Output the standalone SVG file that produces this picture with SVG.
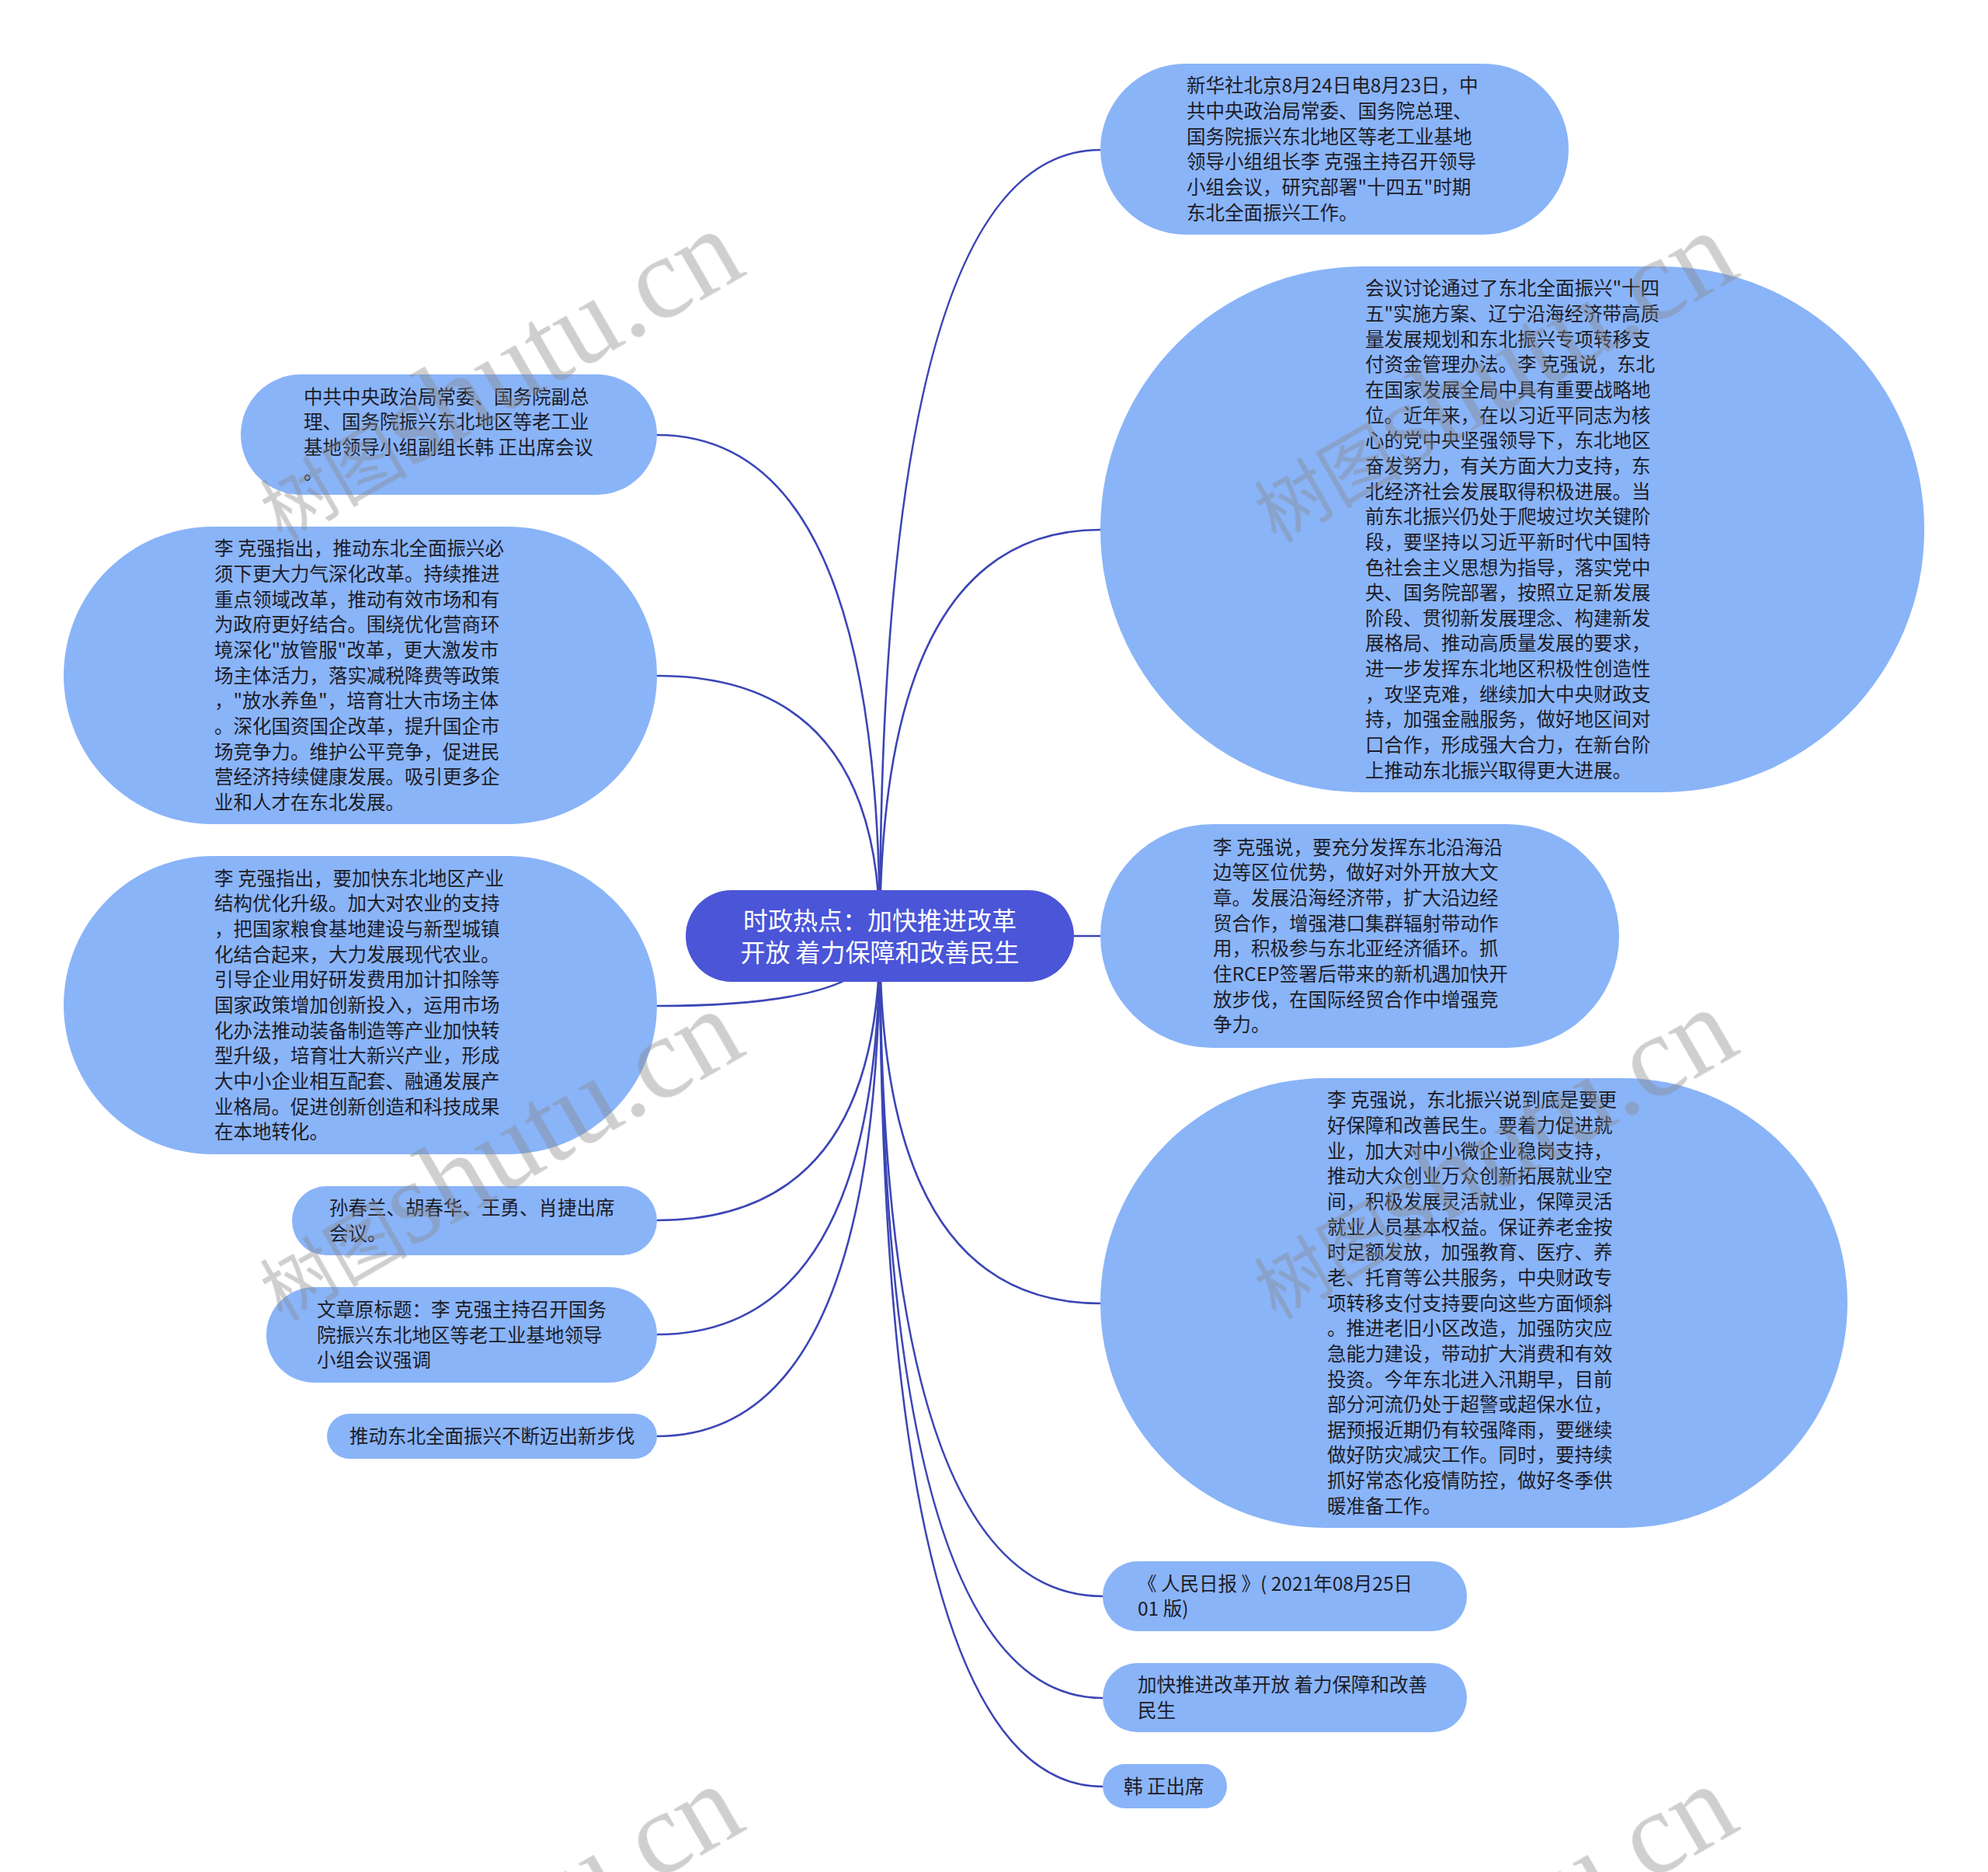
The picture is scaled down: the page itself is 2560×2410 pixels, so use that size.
<svg xmlns="http://www.w3.org/2000/svg" width="2560" height="2410" viewBox="0 0 2560 2410">
<style>
.bg{fill:#ffffff}
.n{fill:#8ab4f8}
.root{fill:#4a55d8}
.t{font-family:"Noto Sans CJK SC","Noto Sans",sans-serif;font-size:24.5px;fill:#1c1c28}
.rt{font-family:"Noto Sans CJK SC","Noto Sans",sans-serif;font-size:32px;fill:#ffffff;text-anchor:middle}
.c{fill:none;stroke:#3b46b6;stroke-width:2.6}
.wm{font-family:"Liberation Serif","Noto Sans CJK SC",serif;fill:#888888;opacity:0.4}
.wc{font-size:95px}
.wl{font-size:150px}
</style>
<rect class="bg" x="0" y="0" width="2560" height="2410"/>
<g id="connectors">
<path class="c" d="M1133 1205 Q1133 193 1417 193"/>
<path class="c" d="M1133 1205 Q1133 682 1417 682"/>
<path class="c" d="M1133 1205 L1417 1205"/>
<path class="c" d="M1133 1205 Q1133 1678 1417 1678"/>
<path class="c" d="M1133 1205 Q1133 2055 1420 2055"/>
<path class="c" d="M1133 1205 Q1133 2186 1420 2186"/>
<path class="c" d="M1133 1205 Q1133 2300 1420 2300"/>
<path class="c" d="M1133 1205 Q1133 560 846 560"/>
<path class="c" d="M1133 1205 Q1133 870 846 870"/>
<path class="c" d="M1133 1205 Q1133 1295 846 1295"/>
<path class="c" d="M1133 1205 Q1133 1571 846 1571"/>
<path class="c" d="M1133 1205 Q1133 1718 846 1718"/>
<path class="c" d="M1133 1205 Q1133 1849 846 1849"/>
</g>
<g id="root">
<rect class="root" x="883" y="1146" width="500" height="118" rx="59"/>
<text class="rt" x="1133" y="1196.5">时政热点：加快推进改革</text>
<text class="rt" x="1133" y="1237.5">开放 着力保障和改善民生</text>
</g>
<g id="n1">
<rect class="n" x="1417" y="82" width="603" height="220" rx="110"/>
<text class="t"><tspan x="1528" y="119.4">新华社北京8月24日电8月23日，中</tspan><tspan x="1528" y="152">共中央政治局常委、国务院总理、</tspan><tspan x="1528" y="184.7">国务院振兴东北地区等老工业基地</tspan><tspan x="1528" y="217.3">领导小组组长李 克强主持召开领导</tspan><tspan x="1528" y="250">小组会议，研究部署"十四五"时期</tspan><tspan x="1528" y="282.6">东北全面振兴工作。</tspan></text>
</g>
<g id="n2">
<rect class="n" x="1417" y="343" width="1061" height="677" rx="338"/>
<text class="t"><tspan x="1758" y="380.3">会议讨论通过了东北全面振兴"十四</tspan><tspan x="1758" y="413">五"实施方案、辽宁沿海经济带高质</tspan><tspan x="1758" y="445.6">量发展规划和东北振兴专项转移支</tspan><tspan x="1758" y="478.3">付资金管理办法。李 克强说，东北</tspan><tspan x="1758" y="510.9">在国家发展全局中具有重要战略地</tspan><tspan x="1758" y="543.6">位。近年来，在以习近平同志为核</tspan><tspan x="1758" y="576.2">心的党中央坚强领导下，东北地区</tspan><tspan x="1758" y="608.9">奋发努力，有关方面大力支持，东</tspan><tspan x="1758" y="641.5">北经济社会发展取得积极进展。当</tspan><tspan x="1758" y="674.2">前东北振兴仍处于爬坡过坎关键阶</tspan><tspan x="1758" y="706.8">段，要坚持以习近平新时代中国特</tspan><tspan x="1758" y="739.5">色社会主义思想为指导，落实党中</tspan><tspan x="1758" y="772.1">央、国务院部署，按照立足新发展</tspan><tspan x="1758" y="804.8">阶段、贯彻新发展理念、构建新发</tspan><tspan x="1758" y="837.4">展格局、推动高质量发展的要求，</tspan><tspan x="1758" y="870.1">进一步发挥东北地区积极性创造性</tspan><tspan x="1758" y="902.7">，攻坚克难，继续加大中央财政支</tspan><tspan x="1758" y="935.4">持，加强金融服务，做好地区间对</tspan><tspan x="1758" y="968">口合作，形成强大合力，在新台阶</tspan><tspan x="1758" y="1000.7">上推动东北振兴取得更大进展。</tspan></text>
</g>
<g id="n3">
<rect class="n" x="1417" y="1061" width="668" height="288" rx="144"/>
<text class="t"><tspan x="1562" y="1099.7">李 克强说，要充分发挥东北沿海沿</tspan><tspan x="1562" y="1132.4">边等区位优势，做好对外开放大文</tspan><tspan x="1562" y="1165">章。发展沿海经济带，扩大沿边经</tspan><tspan x="1562" y="1197.7">贸合作，增强港口集群辐射带动作</tspan><tspan x="1562" y="1230.3">用，积极参与东北亚经济循环。抓</tspan><tspan x="1562" y="1263">住RCEP签署后带来的新机遇加快开</tspan><tspan x="1562" y="1295.6">放步伐，在国际经贸合作中增强竞</tspan><tspan x="1562" y="1328.3">争力。</tspan></text>
</g>
<g id="n4">
<rect class="n" x="1417" y="1388" width="962" height="579" rx="289"/>
<text class="t"><tspan x="1709" y="1425.3">李 克强说，东北振兴说到底是要更</tspan><tspan x="1709" y="1458">好保障和改善民生。要着力促进就</tspan><tspan x="1709" y="1490.6">业，加大对中小微企业稳岗支持，</tspan><tspan x="1709" y="1523.3">推动大众创业万众创新拓展就业空</tspan><tspan x="1709" y="1555.9">间，积极发展灵活就业，保障灵活</tspan><tspan x="1709" y="1588.6">就业人员基本权益。保证养老金按</tspan><tspan x="1709" y="1621.2">时足额发放，加强教育、医疗、养</tspan><tspan x="1709" y="1653.9">老、托育等公共服务，中央财政专</tspan><tspan x="1709" y="1686.5">项转移支付支持要向这些方面倾斜</tspan><tspan x="1709" y="1719.2">。推进老旧小区改造，加强防灾应</tspan><tspan x="1709" y="1751.8">急能力建设，带动扩大消费和有效</tspan><tspan x="1709" y="1784.5">投资。今年东北进入汛期早，目前</tspan><tspan x="1709" y="1817.1">部分河流仍处于超警或超保水位，</tspan><tspan x="1709" y="1849.8">据预报近期仍有较强降雨，要继续</tspan><tspan x="1709" y="1882.4">做好防灾减灾工作。同时，要持续</tspan><tspan x="1709" y="1915.1">抓好常态化疫情防控，做好冬季供</tspan><tspan x="1709" y="1947.7">暖准备工作。</tspan></text>
</g>
<g id="n5">
<rect class="n" x="1420" y="2010" width="469" height="90" rx="45"/>
<text class="t"><tspan x="1465" y="2047.7">《 人民日报 》( 2021年08月25日</tspan><tspan x="1465" y="2080.3">01 版)</tspan></text>
</g>
<g id="n6">
<rect class="n" x="1420" y="2141" width="469" height="89" rx="44.5"/>
<text class="t"><tspan x="1465" y="2178.2">加快推进改革开放 着力保障和改善</tspan><tspan x="1465" y="2210.8">民生</tspan></text>
</g>
<g id="n7">
<rect class="n" x="1420" y="2271" width="160" height="57" rx="28.5"/>
<text class="t" x="1447" y="2308.5">韩 正出席</text>
</g>
<g id="l1">
<rect class="n" x="310" y="482" width="536" height="155" rx="77.5"/>
<text class="t"><tspan x="391" y="519.5">中共中央政治局常委、国务院副总</tspan><tspan x="391" y="552.2">理、国务院振兴东北地区等老工业</tspan><tspan x="391" y="584.8">基地领导小组副组长韩 正出席会议</tspan><tspan x="391" y="617.4">。</tspan></text>
</g>
<g id="l2">
<rect class="n" x="82" y="678" width="764" height="383" rx="191.5"/>
<text class="t"><tspan x="276" y="715.3">李 克强指出，推动东北全面振兴必</tspan><tspan x="276" y="747.9">须下更大力气深化改革。持续推进</tspan><tspan x="276" y="780.6">重点领域改革，推动有效市场和有</tspan><tspan x="276" y="813.2">为政府更好结合。围绕优化营商环</tspan><tspan x="276" y="845.9">境深化"放管服"改革，更大激发市</tspan><tspan x="276" y="878.5">场主体活力，落实减税降费等政策</tspan><tspan x="276" y="911.2">，"放水养鱼"，培育壮大市场主体</tspan><tspan x="276" y="943.8">。深化国资国企改革，提升国企市</tspan><tspan x="276" y="976.5">场竞争力。维护公平竞争，促进民</tspan><tspan x="276" y="1009.1">营经济持续健康发展。吸引更多企</tspan><tspan x="276" y="1041.8">业和人才在东北发展。</tspan></text>
</g>
<g id="l3">
<rect class="n" x="82" y="1102" width="764" height="384" rx="192"/>
<text class="t"><tspan x="276" y="1139.8">李 克强指出，要加快东北地区产业</tspan><tspan x="276" y="1172.4">结构优化升级。加大对农业的支持</tspan><tspan x="276" y="1205.1">，把国家粮食基地建设与新型城镇</tspan><tspan x="276" y="1237.7">化结合起来，大力发展现代农业。</tspan><tspan x="276" y="1270.4">引导企业用好研发费用加计扣除等</tspan><tspan x="276" y="1303">国家政策增加创新投入，运用市场</tspan><tspan x="276" y="1335.7">化办法推动装备制造等产业加快转</tspan><tspan x="276" y="1368.3">型升级，培育壮大新兴产业，形成</tspan><tspan x="276" y="1401">大中小企业相互配套、融通发展产</tspan><tspan x="276" y="1433.6">业格局。促进创新创造和科技成果</tspan><tspan x="276" y="1466.3">在本地转化。</tspan></text>
</g>
<g id="l4">
<rect class="n" x="376" y="1527" width="470" height="89" rx="44.5"/>
<text class="t"><tspan x="424" y="1564.2">孙春兰、胡春华、王勇、肖捷出席</tspan><tspan x="424" y="1596.8">会议。</tspan></text>
</g>
<g id="l5">
<rect class="n" x="343" y="1657" width="503" height="123" rx="61.5"/>
<text class="t"><tspan x="408" y="1694.9">文章原标题：李 克强主持召开国务</tspan><tspan x="408" y="1727.5">院振兴东北地区等老工业基地领导</tspan><tspan x="408" y="1760.2">小组会议强调</tspan></text>
</g>
<g id="l6">
<rect class="n" x="421" y="1820" width="425" height="58" rx="29"/>
<text class="t" x="450" y="1858">推动东北全面振兴不断迈出新步伐</text>
</g>
<g id="watermark" class="wm">
<text transform="translate(363 698) rotate(-30)"><tspan class="wc">树图</tspan><tspan class="wl">shutu.cn</tspan></text>
<text transform="translate(1643 700) rotate(-30)"><tspan class="wc">树图</tspan><tspan class="wl">shutu.cn</tspan></text>
<text transform="translate(363 1702) rotate(-30)"><tspan class="wc">树图</tspan><tspan class="wl">shutu.cn</tspan></text>
<text transform="translate(1643 1700) rotate(-30)"><tspan class="wc">树图</tspan><tspan class="wl">shutu.cn</tspan></text>
<text transform="translate(363 2700) rotate(-30)"><tspan class="wc">树图</tspan><tspan class="wl">shutu.cn</tspan></text>
<text transform="translate(1643 2700) rotate(-30)"><tspan class="wc">树图</tspan><tspan class="wl">shutu.cn</tspan></text>
</g>
</svg>
